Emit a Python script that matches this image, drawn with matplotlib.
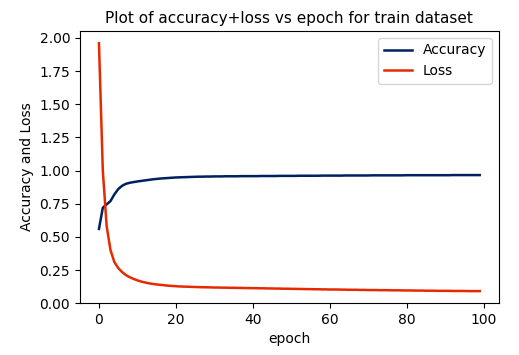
import matplotlib
matplotlib.use('Agg')
import matplotlib.pyplot as plt

epochs = list(range(100))

accuracy = [
    0.56, 0.72, 0.745, 0.77, 0.82, 0.86, 0.885, 0.90, 0.908, 0.913,
    0.918, 0.922, 0.926, 0.930, 0.934, 0.937, 0.940, 0.942, 0.944, 0.946,
    0.948, 0.949, 0.950, 0.951, 0.952, 0.953, 0.954, 0.954, 0.955, 0.955,
    0.956, 0.956, 0.956, 0.957, 0.957, 0.957, 0.957, 0.958, 0.958, 0.958,
    0.958, 0.958, 0.959, 0.959, 0.959, 0.959, 0.959, 0.960, 0.960, 0.960,
    0.960, 0.960, 0.961, 0.961, 0.961, 0.961, 0.961, 0.961, 0.962, 0.962,
    0.962, 0.962, 0.962, 0.962, 0.963, 0.963, 0.963, 0.963, 0.963, 0.963,
    0.963, 0.964, 0.964, 0.964, 0.964, 0.964, 0.964, 0.964, 0.964, 0.964,
    0.965, 0.965, 0.965, 0.965, 0.965, 0.965, 0.965, 0.965, 0.965, 0.965,
    0.965, 0.965, 0.966, 0.966, 0.966, 0.966, 0.966, 0.966, 0.966, 0.966,
]

loss = [
    1.96, 1.00, 0.58, 0.40, 0.31, 0.265, 0.235, 0.212, 0.196, 0.183,
    0.172, 0.163, 0.156, 0.150, 0.145, 0.141, 0.138, 0.135, 0.132, 0.130,
    0.128, 0.126, 0.125, 0.124, 0.123, 0.122, 0.121, 0.120, 0.120, 0.119,
    0.118, 0.118, 0.117, 0.117, 0.116, 0.116, 0.115, 0.115, 0.114, 0.114,
    0.113, 0.113, 0.112, 0.112, 0.111, 0.111, 0.110, 0.110, 0.109, 0.109,
    0.108, 0.108, 0.107, 0.107, 0.106, 0.106, 0.105, 0.105, 0.104, 0.104,
    0.103, 0.103, 0.103, 0.102, 0.102, 0.101, 0.101, 0.101, 0.100, 0.100,
    0.099, 0.099, 0.099, 0.098, 0.098, 0.098, 0.097, 0.097, 0.097, 0.096,
    0.096, 0.096, 0.095, 0.095, 0.095, 0.094, 0.094, 0.094, 0.093, 0.093,
    0.093, 0.093, 0.092, 0.092, 0.092, 0.092, 0.091, 0.091, 0.091, 0.091,
]

fig = plt.figure(figsize=(5.19, 3.55), dpi=100)
ax = fig.add_axes([0.154, 0.146, 0.807, 0.767])
ax.plot(epochs, accuracy, color='#00205f', linewidth=1.8, label='Accuracy')
ax.plot(epochs, loss, color='#e62a00', linewidth=1.8, label='Loss')
ax.set_ylim(bottom=0)
ax.set_title("Plot of accuracy+loss vs epoch for train dataset", fontsize=11)
ax.set_xlabel("epoch")
ax.set_ylabel("Accuracy and Loss")
ax.legend(loc='upper right')
fig.savefig('out.png', dpi=100)
